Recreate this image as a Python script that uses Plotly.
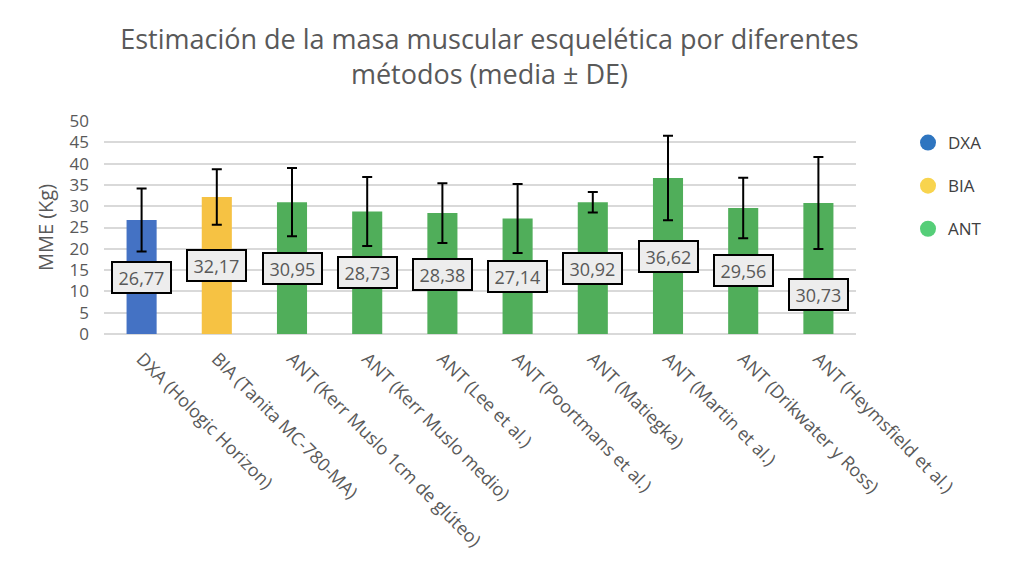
import plotly.graph_objects as go

categories = [
    "DXA (Hologic Horizon)",
    "BIA (Tanita MC-780-MA)",
    "ANT (Kerr Muslo 1cm de glúteo)",
    "ANT (Kerr Muslo medio)",
    "ANT (Lee et al.)",
    "ANT (Poortmans et al.)",
    "ANT (Matiegka)",
    "ANT (Martin et al.)",
    "ANT (Drikwater y Ross)",
    "ANT (Heymsfield et al.)",
]
groups = ["DXA", "BIA", "ANT", "ANT", "ANT", "ANT", "ANT", "ANT", "ANT", "ANT"]
means = [26.77, 32.17, 30.95, 28.73, 28.38, 27.14, 30.92, 36.62, 29.56, 30.73]
sds = [7.4, 6.5, 8.0, 8.1, 7.0, 8.1, 2.4, 9.9, 7.1, 10.8]
value_labels = ["26,77", "32,17", "30,95", "28,73", "28,38", "27,14", "30,92", "36,62", "29,56", "30,73"]
# vertical anchor of each data-label box (as placed in the original chart)
label_y = [13.3, 16.1, 15.3, 14.4, 14.0, 13.5, 15.4, 18.3, 14.9, 9.3]

bar_colors = {"DXA": "#4472C4", "BIA": "#F6C243", "ANT": "#50AE5A"}
legend_colors = {"DXA": "#2E75C0", "BIA": "#F8D44E", "ANT": "#55CE78"}
legend_names = ["DXA", "BIA", "ANT"]

FONT = "Open Sans"
GRAY = "#595959"

fig = go.Figure()
fig.add_trace(go.Bar(
    x=categories, y=means,
    marker=dict(color=[bar_colors[g] for g in groups], line=dict(width=0)),
    width=0.4,
    error_y=dict(type="data", array=sds, visible=True, color="black", thickness=2, width=5),
    showlegend=False, hoverinfo="x+y",
))
for i, name in enumerate(legend_names):
    fig.add_trace(go.Scatter(
        x=[None], y=[None], mode="markers", name=name, legendgroup=name,
        marker=dict(symbol="circle", size=16, color=legend_colors[name]),
    ))

for c, ly, txt in zip(categories, label_y, value_labels):
    fig.add_annotation(
        x=c, y=ly, text=txt, showarrow=False,
        font=dict(family=FONT, size=18, color=GRAY),
        bgcolor="#EDEDED", bordercolor="black", borderwidth=2, borderpad=1,
        width=55, height=27, xanchor="center", yanchor="middle",
    )

fig.update_layout(
    width=1024, height=573,
    margin=dict(l=104, r=168, t=121, b=239),
    paper_bgcolor="white", plot_bgcolor="white",
    font=dict(family=FONT, color=GRAY),
    title=dict(
        text="Estimación de la masa muscular esquelética por diferentes<br>métodos (media ± DE)",
        x=0.478, xanchor="center", xref="container",
        y=1 - 49 / 573, yanchor="top", yref="container",
        font=dict(family=FONT, size=27, color=GRAY),
    ),
    bargap=0.6,
    legend=dict(
        x=908 / 1024, xref="container", y=1 - 125 / 573, yref="container",
        xanchor="left", yanchor="top",
        font=dict(family=FONT, size=17, color="#404040"),
        tracegroupgap=18, itemsizing="trace",
        bgcolor="rgba(0,0,0,0)",
    ),
)
fig.update_xaxes(
    tickangle=45, tickfont=dict(family=FONT, size=18, color=GRAY),
    showgrid=False, showline=False, ticks="", automargin=False,
    ticklabelstandoff=10,
)
fig.update_yaxes(
    range=[0, 50], dtick=5, tick0=0,
    showgrid=True, gridcolor="#D9D9D9", gridwidth=1.5,
    zeroline=True, zerolinecolor="#D9D9D9", zerolinewidth=1.5,
    showline=False, ticks="",
    tickfont=dict(family=FONT, size=17, color=GRAY),
    ticklabelstandoff=14,
    title=dict(text="MME (Kg)", font=dict(family=FONT, size=20, color=GRAY), standoff=10),
    automargin=False,
)

fig.write_html("out.html")
